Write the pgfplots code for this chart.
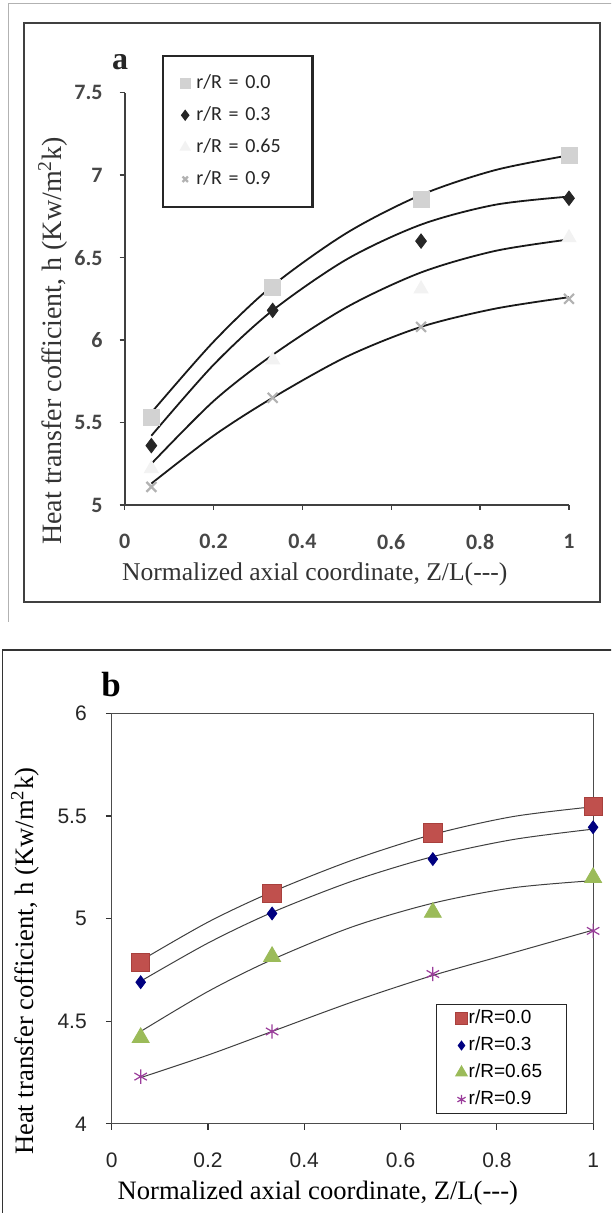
\documentclass[border=0pt]{standalone}
\usepackage{fontspec}
\setmainfont{Liberation Serif}
\newfontfamily\carlito{Carlito}
\newfontfamily\arial{Liberation Sans}
\usepackage{pgfplots}
\pgfplotsset{compat=1.18}
\definecolor{bred}{HTML}{C0504D}
\definecolor{bredd}{HTML}{A8403D}
\definecolor{bnavy}{HTML}{000080}
\definecolor{bgreen}{HTML}{9BBB59}
\definecolor{bpurple}{HTML}{9B3D9B}
\begin{document}
\begin{tikzpicture}
\useasboundingbox (0,0) rectangle (305.5pt,606.5pt);
\clip (0,0) rectangle (305.5pt,606.5pt);
\fill[white] (0,0) rectangle (305.5pt,606.5pt);
% panel a frames
\draw[gray!60, line width=0.5pt] (310pt,604.5pt) -- (4.15pt,604.5pt) -- (4.15pt,295.5pt);
\draw[black!75, line width=1pt] (12pt,305.5pt) rectangle (299.75pt,594.85pt);
% panel b frame
\draw[black!80, line width=0.6pt] (1.15pt,-5pt) -- (1.15pt,281.5pt) -- (310pt,281.5pt);
\node[font=\bfseries\fontsize{16}{16}\selectfont, text=black!85] at (60pt,575.5pt) {a};
\node[font=\bfseries\fontsize{17.5}{17.5}\selectfont] at (55.5pt,264pt) {b};

% ---------------- panel a ----------------
\begin{axis}[
  at={(62.35pt,354pt)}, anchor=south west, scale only axis,
  width=222.15pt, height=206.15pt,
  xmin=0, xmax=1, ymin=5, ymax=7.5,
  xtick={0,0.2,0.4,0.6,0.8,1}, ytick={5,5.5,6,6.5,7,7.5},
  axis x line*=bottom, axis y line*=left,
  axis line style={-, draw=black!75, line width=0.8pt},
  tick align=outside, major tick length=2.5pt,
  tick style={black!75, line width=0.7pt},
  /pgf/number format/assume math mode=true,
  ticklabel style={font=\carlito\bfseries\fontsize{11}{11}\selectfont, text=black!72},
  xticklabel style={yshift=-8.5pt},
  yticklabel style={xshift=-5pt},
  every axis y label/.style={at={(axis description cs:-0.162,0.398)}, rotate=90, anchor=center},
  every axis x label/.style={at={(axis description cs:0.4276,-0.169)}, anchor=center},
  ylabel={Heat transfer cofficient, h (Kw/m\textsuperscript{2}k)},
  xlabel={Normalized axial coordinate, Z/L(-{}-{}-)},
  ylabel style={font=\fontsize{14}{16}\selectfont, text=black!80},
  xlabel style={font=\fontsize{12.8}{14}\selectfont, text=black!80},
  clip=false,
  legend image code/.code={\draw[mark repeat=2,mark phase=2,#1] plot coordinates {(0cm,0cm)(0.15cm,0cm)(0.3cm,0cm)};},
  legend image post style={mark options={scale=0.55}},
  legend cell align=left,
  legend style={at={(axis description cs:0.0833,1.092)}, anchor=north west,
    draw=black!85, line width=1.1pt, inner xsep=9pt, inner ysep=7pt,
    font=\carlito\fontsize{10}{12}\selectfont, text=black!85, row sep=2.6pt,
    nodes={inner sep=2pt, text height=7.4pt, text depth=2pt, text width=47pt, align=left},
    /tikz/every odd column/.append style={column sep=1.4pt}},
]
\addplot[only marks, mark=square*, color=gray!35, mark size=4pt] coordinates {(0.06,5.53) (0.333,6.32) (0.667,6.85) (1,7.12)};
\addlegendentry{r/R = 0.0}
\addplot[only marks, mark=diamond*, color=black!85, mark size=3.6pt] coordinates {(0.06,5.36) (0.333,6.18) (0.667,6.60) (1,6.86)};
\addlegendentry{r/R = 0.3}
\addplot[only marks, mark=triangle*, color=gray!10, mark size=4pt] coordinates {(0.06,5.22) (0.333,5.88) (0.667,6.31) (1,6.62)};
\addlegendentry{r/R = 0.65}
\addplot[only marks, mark=x, color=gray!60, line width=1.1pt, mark size=3.5pt] coordinates {(0.06,5.11) (0.333,5.65) (0.667,6.08) (1,6.25)};
\addlegendentry{r/R = 0.9}
\addplot[smooth, black!90, line width=0.9pt, forget plot] coordinates {(0.06,5.56) (0.2,5.99) (0.333,6.33) (0.5,6.65) (0.667,6.88) (0.833,7.03) (1,7.12)};
\addplot[smooth, black!90, line width=0.9pt, forget plot] coordinates {(0.06,5.42) (0.2,5.85) (0.333,6.18) (0.5,6.49) (0.667,6.70) (0.833,6.82) (1,6.87)};
\addplot[smooth, black!90, line width=0.9pt, forget plot] coordinates {(0.06,5.25) (0.2,5.63) (0.333,5.91) (0.5,6.20) (0.667,6.41) (0.833,6.54) (1,6.61)};
\addplot[smooth, black!90, line width=0.9pt, forget plot] coordinates {(0.06,5.13) (0.2,5.42) (0.333,5.65) (0.5,5.90) (0.667,6.08) (0.833,6.19) (1,6.26)};
\end{axis}

% ---------------- panel b ----------------
\begin{axis}[
  at={(55.9pt,44.6pt)}, anchor=south west, scale only axis,
  width=240.65pt, height=205.2pt,
  xmin=0, xmax=1, ymin=4, ymax=6,
  xtick={0,0.2,0.4,0.6,0.8,1}, ytick={4,4.5,5,5.5,6},
  axis line style={draw=black!70, line width=0.6pt},
  tick pos=left, tick align=outside, major tick length=3pt,
  tick style={black!80, line width=0.6pt},
  /pgf/number format/assume math mode=true,
  ticklabel style={font=\arial\fontsize{10.5}{10.5}\selectfont, text=black!85},
  xticklabel style={yshift=-8pt},
  yticklabel style={xshift=-6pt},
  every axis y label/.style={at={(axis description cs:-0.180,0.396)}, rotate=90, anchor=center},
  every axis x label/.style={at={(axis description cs:0.428,-0.169)}, anchor=center},
  ylabel={Heat transfer cofficient, h (Kw/m\textsuperscript{2}k)},
  xlabel={Normalized axial coordinate, Z/L(-{}-{}-)},
  label style={font=\fontsize{13.3}{15}\selectfont},
  clip=false,
  legend image code/.code={\draw[mark repeat=2,mark phase=2,#1] plot coordinates {(0cm,0cm)(0.12cm,0cm)(0.24cm,0cm)};},
  legend image post style={mark options={scale=0.65}},
  legend cell align=left,
  legend style={at={(axis description cs:0.673,0.292)}, anchor=north west,
    draw=black!85, line width=0.6pt, inner xsep=9.6pt, inner ysep=0.8pt,
    font=\arial\fontsize{9.5}{11}\selectfont, row sep=1.1pt,
    nodes={inner sep=2pt, text height=6.9pt, text depth=1.5pt, text width=37.5pt},
    /tikz/every odd column/.append style={column sep=-1.4pt}},
]
\addplot[only marks, mark=square*, color=bredd, fill=bred, mark size=4.6pt] coordinates {(0.06,4.787) (0.333,5.123) (0.667,5.418) (1,5.548)};
\addlegendentry{r/R=0.0}
\addplot[only marks, mark=diamond*, color=bnavy, mark size=3.2pt] coordinates {(0.06,4.69) (0.333,5.025) (0.667,5.29) (1,5.445)};
\addlegendentry{r/R=0.3}
\addplot[only marks, mark=triangle*, color=bgreen, mark size=4.9pt] coordinates {(0.06,4.42) (0.333,4.815) (0.667,5.03) (1,5.20)};
\addlegendentry{r/R=0.65}
\addplot[only marks, mark=asterisk, color=bpurple, line width=0.6pt, mark size=3.6pt] coordinates {(0.06,4.23) (0.333,4.45) (0.667,4.73) (1,4.94)};
\addlegendentry{r/R=0.9}
\addplot[smooth, black!75, line width=0.5pt, forget plot] coordinates {(0.06,4.795) (0.2,4.983) (0.333,5.130) (0.5,5.285) (0.667,5.410) (0.833,5.497) (1,5.545)};
\addplot[smooth, black!75, line width=0.5pt, forget plot] coordinates {(0.06,4.695) (0.2,4.881) (0.333,5.030) (0.5,5.183) (0.667,5.302) (0.833,5.385) (1,5.436)};
\addplot[smooth, black!75, line width=0.5pt, forget plot] coordinates {(0.06,4.450) (0.2,4.645) (0.333,4.800) (0.5,4.960) (0.667,5.075) (0.833,5.150) (1,5.185)};
\addplot[smooth, black!75, line width=0.5pt, forget plot] coordinates {(0.06,4.225) (0.2,4.335) (0.333,4.450) (0.5,4.594) (0.667,4.723) (0.833,4.833) (1,4.944)};
\end{axis}
\end{tikzpicture}
\end{document}
